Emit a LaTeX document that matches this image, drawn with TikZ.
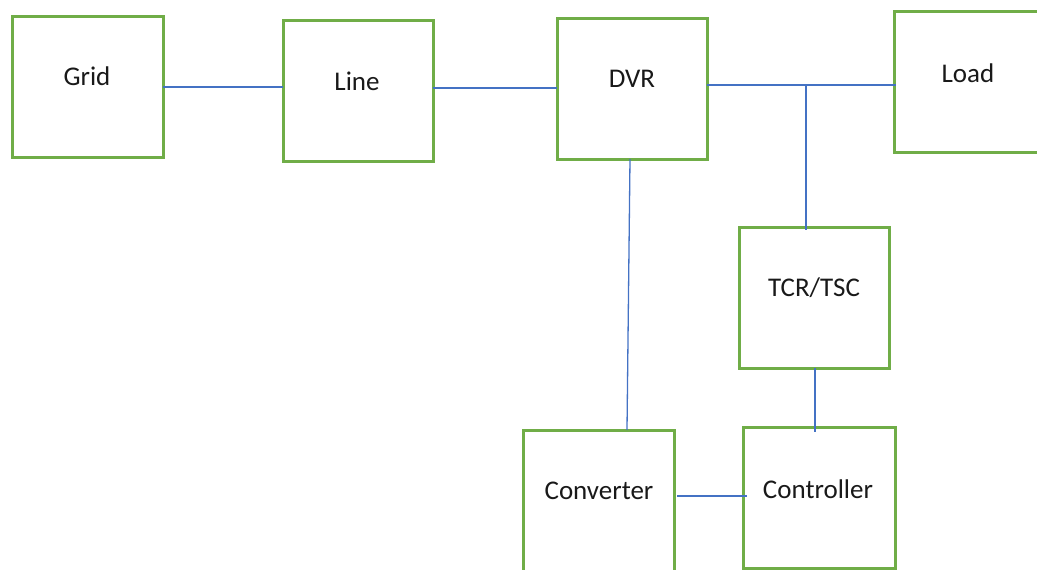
\documentclass[tikz,border=0pt]{standalone}
\usepackage{fontspec}
\setmainfont{Carlito}
\definecolor{boxgreen}{RGB}{112,173,71}
\definecolor{wireblue}{RGB}{68,114,196}
\begin{document}
\begin{tikzpicture}[x=1pt,y=-1pt,
  blockbox/.style={draw=boxgreen,line width=3pt,fill=white,rectangle,inner sep=0pt,outer sep=0pt},
  tag/.style={font=\fontsize{27}{32}\selectfont,text=black!90,inner sep=0pt},
  wire/.style={draw=wireblue,line width=1.3pt}]
\useasboundingbox (0,0) rectangle (1037,570);
\clip (0,0) rectangle (1037,570);
% blocks
\node[blockbox,minimum width=150.5pt,minimum height=141pt] (grid) at (87.75,86.5) {};
\node[blockbox,minimum width=150pt,minimum height=141pt] (line) at (358,90.5) {};
\node[blockbox,minimum width=150pt,minimum height=141pt] (dvr) at (632,88.5) {};
\node[blockbox,minimum width=150pt,minimum height=141pt] (load) at (969,81.5) {};
\node[blockbox,minimum width=150pt,minimum height=141pt] (tcr) at (814,297.5) {};
\node[blockbox,minimum width=151pt,minimum height=141pt] (conv) at (598.5,500.5) {};
\node[blockbox,minimum width=152pt,minimum height=141pt] (ctrl) at (819,497.5) {};
% labels
\node[tag] (tgrid) at (87,76) {Grid};
\node[tag] (tline) at (357,81) {Line};
\node[tag] (tdvr) at (632,79) {DVR};
\node[tag] (tload) at (968,73) {Load};
\node[tag] (ttcr) at (814,288) {TCR/TSC};
\node[tag] (tconv) at (599,491) {Converter};
\node[tag] (tctrl) at (818,489) {Controller};
% connections
\coordinate (j) at (806,85);
\draw[wire] (grid.east |- 0,87) -- (line.west |- 0,87);
\draw[wire] (line.east |- 0,88) -- (dvr.west |- 0,88);
\draw[wire] (dvr.east |- 0,85) -- ([xshift=2pt]load.west |- 0,85);
\draw[wire] (j) -- ([yshift=-3pt]tcr.north -| j);
\draw[wire] ([xshift=-2pt]dvr.south) -- ([xshift=28.5pt]conv.north);
\draw[wire] ([xshift=1pt]tcr.south) -- ([yshift=-5pt]ctrl.north -| 815,0);
\draw[wire] ([xshift=3pt]conv.east |- 0,496) -- ([xshift=4pt]ctrl.west |- 0,496);
\end{tikzpicture}
\end{document}
